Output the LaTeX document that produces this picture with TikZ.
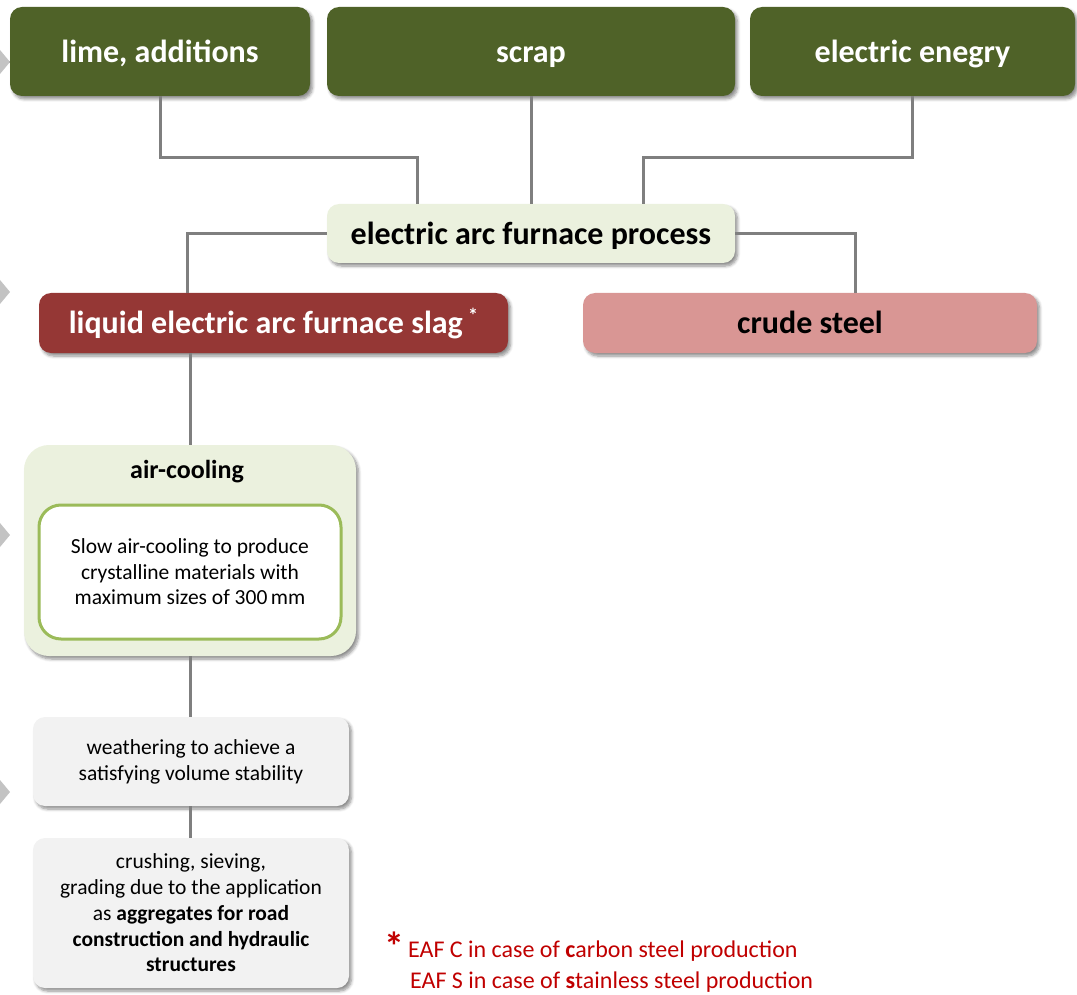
\documentclass[tikz,border=0pt]{standalone}
\usepackage{fontspec}
\setmainfont{Carlito}
\usetikzlibrary{shadows.blur,calc}
\definecolor{olive}{HTML}{4F6228}
\definecolor{palegreen}{HTML}{EBF1DE}
\definecolor{slagred}{HTML}{953735}
\definecolor{pinkish}{HTML}{D99694}
\definecolor{lightgrey}{HTML}{F2F2F2}
\definecolor{linegrey}{HTML}{7F7F7F}
\definecolor{chev}{HTML}{C3C3C3}
\definecolor{leafgreen}{HTML}{9BBB59}
\definecolor{notered}{HTML}{C00000}
\tikzset{
  shadowed/.style={blur shadow={shadow xshift=2.5pt, shadow yshift=-3pt, shadow blur steps=6, shadow blur radius=3pt, shadow opacity=45}},
  box/.style={rectangle, rounded corners=12pt, inner sep=0pt, align=center, shadowed},
  bigtext/.style={font=\fontsize{32}{36}\selectfont\bfseries, text height=24pt, text depth=2.5pt},
  topbox/.style={box, fill=olive, text=white, bigtext},
  midbox/.style={box, fill=palegreen, text=black, bigtext},
  smallbox/.style={box, fill=lightgrey, text=black, font=\fontsize{21.5}{25.8}\selectfont},
  conn/.style={draw=linegrey, line width=3pt},
  chevron/.style={fill=chev, draw=none},
  notetext/.style={text=notered, font=\fontsize{24}{30}\selectfont, anchor=base west, inner sep=0pt},
}
\begin{document}
\begin{tikzpicture}[x=1pt,y=-1pt]
\useasboundingbox (0,0) rectangle (1077,995);
% chevrons
\foreach \yy in {62,292,535,792}{
  \fill[chevron] (0,\yy-12) -- (10,\yy) -- (0,\yy+12) -- cycle;
}
% top boxes
\node[topbox, minimum width=300pt, minimum height=89pt] (lime) at (160,51.5) {lime, additions};
\node[topbox, minimum width=408pt, minimum height=89pt] (scrap) at (531,51.5) {scrap};
\node[topbox, minimum width=325pt, minimum height=89pt] (energy) at (912.5,51.5) {electric enegry};
% furnace
\node[midbox, minimum width=408pt, minimum height=59pt] (furnace) at (531,233.5) {electric arc furnace process};
% slag and steel
\node[box, fill=slagred, text=white, bigtext, minimum width=469pt, minimum height=60pt] (slag) at (273.5,323) {liquid electric arc furnace slag\,\raisebox{0.75ex}{\fontsize{20}{20}\selectfont *}};
\node[box, fill=pinkish, text=black, bigtext, minimum width=454pt, minimum height=60pt] (crude) at (810,323) {crude steel};
% air-cooling
\node[box, rounded corners=25pt, fill=palegreen, minimum width=332pt, minimum height=211pt] (aircool) at (190,550.5) {};
\node[font=\fontsize{26}{30}\selectfont\bfseries, inner sep=0pt, anchor=base] (airtitle) at (187,478) {air-cooling};
\node[rectangle, rounded corners=22pt, fill=white, draw=leafgreen, line width=3pt, minimum width=302pt, minimum height=134pt, align=center, font=\fontsize{21.5}{25.5}\selectfont] (inner) at (190,572) {Slow air-cooling to produce\\crystalline materials with\\maximum sizes of 300\,mm};
% weathering
\node[smallbox, minimum width=316pt, minimum height=89pt] (weather) at (191,761.5) {weathering to achieve a\\satisfying volume stability};
\node[smallbox, minimum width=316pt, minimum height=150pt] (crush) at (191,913) {crushing, sieving,\\grading due to the application\\as \textbf{aggregates for road}\\\textbf{construction and hydraulic}\\\textbf{structures}};
% connectors
\draw[conn] (lime.south) -- ++(0,61) -| ([xshift=-114pt]furnace.north);
\draw[conn] (scrap.south) -- (furnace.north);
\draw[conn] (energy.south) -- ++(0,61) -| ([xshift=112pt]furnace.north);
\draw[conn] (furnace.west) -| ([xshift=-86.5pt]slag.north);
\draw[conn] (furnace.east) -| ([xshift=45pt]crude.north);
\draw[conn] (slag.south -| aircool.north) -- (aircool.north);
\draw[conn] (aircool.south) -- (aircool.south |- weather.north);
\draw[conn] (weather.south -| aircool.south) -- (aircool.south |- crush.north);
% footnote
\node[text=notered, font=\fontsize{40}{40}\selectfont\bfseries, inner sep=0pt] (star) at (394,946) {*};
\node[notetext] (note1) at (408,957) {EAF C in case of \textbf{c}arbon steel production};
\node[notetext] (note2) at (410,988) {EAF S in case of \textbf{s}tainless steel production};
\end{tikzpicture}
\end{document}
